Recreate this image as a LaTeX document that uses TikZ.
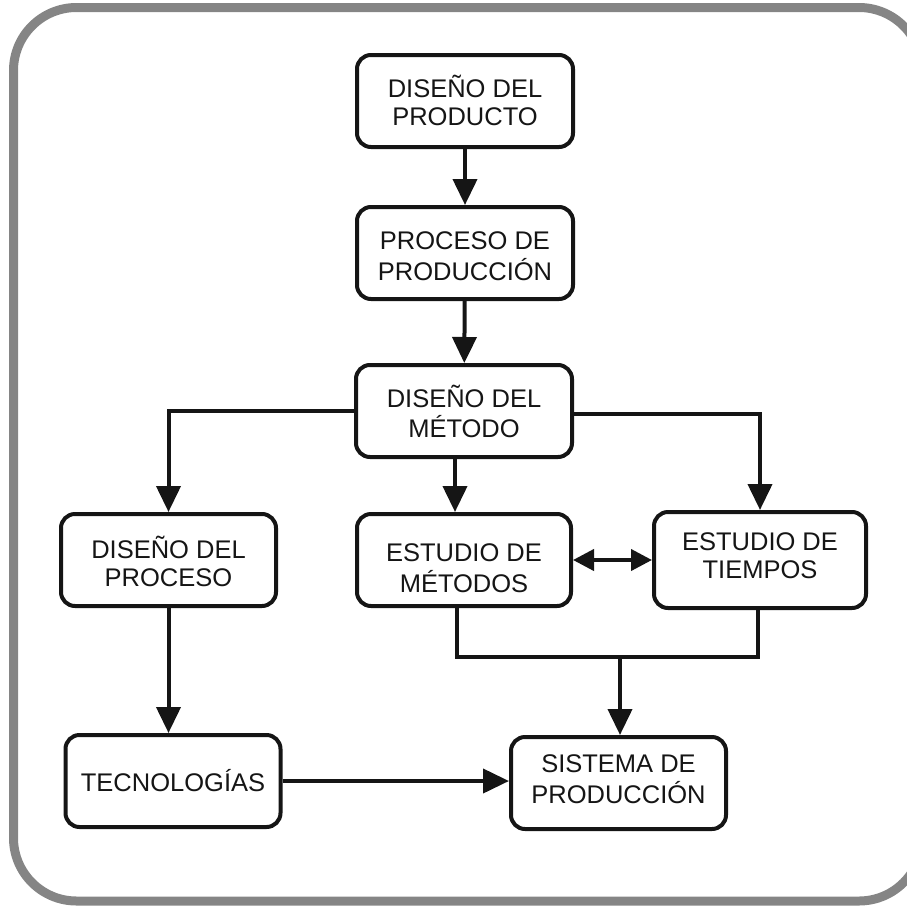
\documentclass[tikz,border=0pt]{standalone}
\usepackage{fontspec}
\setmainfont{Liberation Sans}
\usetikzlibrary{arrows.meta}
\definecolor{framegray}{HTML}{858585}
\definecolor{ink}{HTML}{151515}
% two centred lines; #1 moves the text block down inside its box
\newcommand{\boxlines}[3]{%
  \raisebox{\dimexpr-9.8pt-#1pt\relax}[0pt][0pt]{%
    \begin{tabular}{@{}c@{}}#2\\#3\end{tabular}}}
\begin{document}
\begin{tikzpicture}[x=1pt,y=-1pt,
  stepbox/.style={draw=ink,line width=4pt,rounded corners=14pt,
    minimum width=216pt,minimum height=92pt,inner sep=0pt,
    text=ink,font=\fontsize{25.5}{28}\selectfont},
  link/.style={draw=ink,line width=4pt},
  arr/.style={link,-{Triangle[length=26pt,width=24pt]}},
  darr/.style={link,{Triangle[length=21pt,width=21pt]}-{Triangle[length=21pt,width=21pt]}}]
  \useasboundingbox (0,0) rectangle (907,905);
  % outer frame, its right side cut off by the page edge
  \begin{scope}
    \clip (0,0) rectangle (907,905);
    \draw[framegray,line width=9pt,rounded corners=63pt]
      (13.5,7.5) -- (922,7.5) -- (922,901) -- (13.5,901) -- cycle;
  \end{scope}

  % boxes
  \node[stepbox] (prod) at (465,101) {\boxlines{0}{DISEÑO DEL}{PRODUCTO}};
  \node[stepbox] (proc) at (465,253) {\boxlines{3}{PROCESO DE}{PRODUCCIÓN}};
  \node[stepbox] (met)  at (464,411) {\boxlines{1}{DISEÑO DEL}{MÉTODO}};
  \node[stepbox,minimum width=215pt] (dproc) at (168.5,560) {\boxlines{2}{DISEÑO DEL}{PROCESO}};
  \node[stepbox,minimum width=214pt] (emet)  at (464,560) {\boxlines{8}{ESTUDIO DE}{MÉTODOS}};
  \node[stepbox,minimum width=212pt,minimum height=96pt] (etie) at (760,560) {\boxlines{-5}{ESTUDIO DE}{TIEMPOS}};
  \node[stepbox,minimum width=215pt] (tec)  at (173,781) {TECNOLOGÍAS};
  \node[stepbox,minimum width=215pt] (sis)  at (618.5,783) {\boxlines{-4}{SISTEMA DE}{PRODUCCIÓN}};

  % junction below the two studies
  \coordinate (jl) at (457,657);
  \coordinate (jr) at (758,657);
  \coordinate (jm) at (620,657);

  % connectors
  \draw[arr] (prod) -- (proc);
  \draw[arr] (proc) -- (met);
  \draw[arr] (met.west) -| (dproc.north);
  \draw[arr] ([yshift=-3pt]met.east) -| (etie.north);
  \draw[arr] ([xshift=-9pt]met.south) -- ([xshift=-9pt]met.south |- emet.north);
  \draw[darr] (emet.east) -- (etie.west);
  \draw[link] (emet.south -| jl) -- (jl) -- (jr) -- (etie.south -| jr);
  \draw[arr] (jm) -- (jm |- sis.north);
  \draw[arr] (dproc.south) -- (dproc.south |- tec.north);
  \draw[arr] (tec.east) -- (tec.east -| sis.west);
\end{tikzpicture}
\end{document}
